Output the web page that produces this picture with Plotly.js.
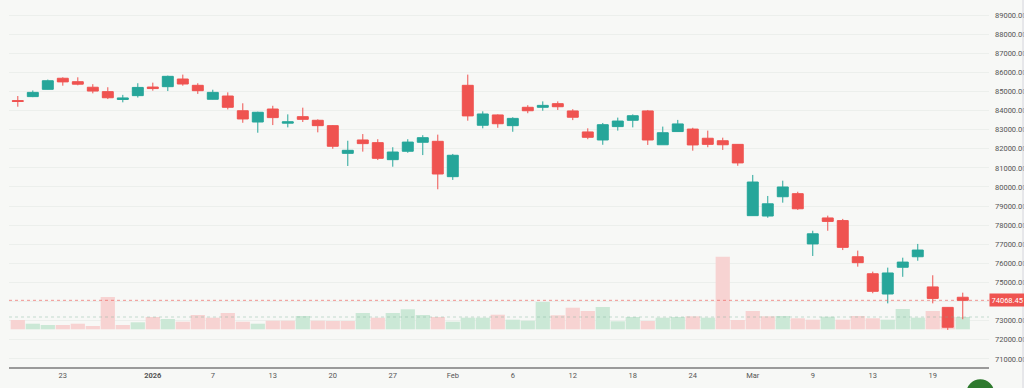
<!DOCTYPE html>
<html>
<head>
<meta charset="utf-8">
<script src="https://cdn.plot.ly/plotly-3.0.1.min.js"></script>
<style>
  html, body { margin: 0; padding: 0; background: #f7f8f6; }
  #chart { width: 1024px; height: 388px; }
</style>
</head>
<body>
<div id="chart"></div>
<script>
// Trading days (categories)
const dates = [
  "2025-12-18","2025-12-19","2025-12-22","2025-12-23","2025-12-24","2025-12-26","2025-12-29","2025-12-30",
  "2025-12-31","2026-01-01","2026-01-02","2026-01-05","2026-01-06","2026-01-07","2026-01-08","2026-01-09",
  "2026-01-12","2026-01-13","2026-01-14","2026-01-16","2026-01-19","2026-01-20","2026-01-21","2026-01-22",
  "2026-01-23","2026-01-27","2026-01-28","2026-01-29","2026-01-30","2026-02-01","2026-02-02","2026-02-03",
  "2026-02-04","2026-02-06","2026-02-09","2026-02-10","2026-02-11","2026-02-12","2026-02-13","2026-02-16",
  "2026-02-17","2026-02-18","2026-02-19","2026-02-20","2026-02-23","2026-02-24","2026-02-25","2026-02-26",
  "2026-02-27","2026-03-02","2026-03-04","2026-03-05","2026-03-06","2026-03-09","2026-03-10","2026-03-11",
  "2026-03-12","2026-03-13","2026-03-16","2026-03-17","2026-03-18","2026-03-19","2026-03-20","2026-03-23"
];
const opens = [
  84520, 84730, 85110, 85690, 85510, 85220, 84990, 84580,
  84780, 85230, 85250, 85650, 85320, 84590, 84760, 83990,
  83400, 84080, 83340, 83680, 83490, 83210, 81760, 82460,
  82320, 81430, 81870, 82340, 82390, 80540, 85320, 83230,
  83770, 83210, 84170, 84170, 84360, 83980, 82880, 82460,
  83160, 83490, 83980, 82210, 82900, 83030, 82550, 82420,
  82230, 78500, 78480, 79490, 79650, 77020, 78380, 78240,
  76350, 75460, 74400, 75800, 76350, 74770, 73700, 74230
];
const highs = [
  84760, 85050, 85620, 85740, 85740, 85380, 85220, 84820,
  85430, 85460, 85830, 85880, 85430, 85090, 84950, 84380,
  83940, 84250, 83800, 84150, 83540, 83240, 82420, 82770,
  82500, 82080, 82500, 82710, 82740, 81730, 85880, 83960,
  83800, 83650, 84280, 84480, 84480, 84070, 83070, 83350,
  83630, 83800, 84030, 83160, 83510, 83100, 82950, 82580,
  82240, 80630, 79530, 80330, 79750, 77710, 78500, 78330,
  76670, 75570, 75780, 76300, 77020, 75380, 73720, 74470
];
const lows = [
  84200, 84700, 85100, 85300, 85320, 84900, 84600, 84430,
  84680, 85040, 85020, 85300, 84870, 84580, 84060, 83360,
  82840, 83240, 83120, 83400, 82860, 82000, 81100, 81850,
  81410, 81060, 81790, 81670, 79880, 80370, 83470, 83070,
  83100, 82890, 83860, 83990, 84030, 83500, 82500, 82210,
  82950, 83120, 82200, 82210, 82890, 81900, 82080, 81940,
  81110, 78490, 78390, 79180, 78800, 76390, 77710, 76700,
  75830, 74440, 73910, 75300, 76140, 73910, 72520, 73080
];
const closes = [
  84480, 84950, 85560, 85500, 85380, 85020, 84670, 84660,
  85210, 85150, 85790, 85390, 85040, 84950, 84170, 83560,
  83910, 83630, 83410, 83540, 83210, 82130, 81920, 82270,
  81500, 81830, 82350, 82580, 80680, 81660, 83720, 83820,
  83310, 83590, 83990, 84270, 84200, 83650, 82600, 83260,
  83450, 83730, 82460, 82840, 83300, 82200, 82230, 82210,
  81260, 80260, 79120, 80000, 78860, 77550, 78200, 76840,
  76040, 74540, 75500, 76070, 76700, 74170, 72660, 74068.45
];
const volumes = [
  93, 56, 43, 43, 56, 33, 323, 43,
  70, 123, 103, 76, 143, 116, 163, 76,
  56, 86, 86, 133, 86, 83, 83, 163,
  116, 163, 200, 143, 123, 76, 116, 116,
  146, 96, 86, 273, 140, 216, 183, 223,
  80, 123, 83, 116, 123, 130, 116, 726,
  93, 183, 130, 133, 110, 96, 126, 96,
  133, 110, 96, 203, 116, 183, 126, 123
];
// x-axis tick labels
const tickDates = ["2025-12-23","2026-01-01","2026-01-07","2026-01-13","2026-01-20","2026-01-27","2026-02-01",
  "2026-02-06","2026-02-12","2026-02-18","2026-02-24","2026-03-02","2026-03-09","2026-03-13","2026-03-19"];
const tickLabels = ["23","<b>2026</b>","7","13","20","27","Feb","6","12","18","24","Mar","9","13","19"];
// price axis ticks
const priceTicks = [71000,72000,73000,74000,75000,76000,77000,78000,79000,80000,81000,82000,83000,84000,85000,86000,87000,88000,89000];

const UP = '#26a69a', DOWN = '#ef5350';
const VOL_UP = '#cbe8d6', VOL_DOWN = '#f7d3d2';
const volColors = closes.map((c, i) => (i > 0 && c >= closes[i - 1]) ? VOL_UP : VOL_DOWN);
const lastClose = closes[closes.length - 1];
const lastVol = volumes[volumes.length - 1];
// the last-price badge covers the nearest tick label, as in the reference
const priceTickText = priceTicks.map(v => Math.abs(v - lastClose) < 500 ? '' : v.toFixed(2));

const volTrace = {
  type: 'bar', x: dates, y: volumes, xaxis: 'x', yaxis: 'y',
  marker: { color: volColors, line: { width: 0 } },
  hoverinfo: 'skip', showlegend: false
};
const candleTrace = {
  type: 'candlestick', x: dates, open: opens, high: highs, low: lows, close: closes,
  xaxis: 'x', yaxis: 'y2',
  increasing: { line: { color: UP, width: 1 }, fillcolor: UP },
  decreasing: { line: { color: DOWN, width: 1 }, fillcolor: DOWN },
  whiskerwidth: 0, showlegend: false, hoverinfo: 'skip'
};

const layout = {
  width: 1024, height: 388,
  margin: { l: 9, r: 35, t: 0, b: 21, pad: 0 },
  paper_bgcolor: '#f7f8f6', plot_bgcolor: '#f7f8f6',
  font: { family: 'Roboto, "Noto Sans", sans-serif', size: 7.5, color: '#555' },
  showlegend: false,
  bargap: 0.05,
  boxgap: 0.27, boxgroupgap: 0,
  xaxis: {
    type: 'category', categoryorder: 'array', categoryarray: dates,
    range: [-0.587, 64.75],
    rangeslider: { visible: false },
    showgrid: false, zeroline: false,
    showline: true, linecolor: '#9a9a9a', linewidth: 1.5,
    ticks: '', tickmode: 'array', tickvals: tickDates, ticktext: tickLabels,
    tickfont: { size: 7.5, color: '#555' }, tickangle: 0,
    fixedrange: true
  },
  yaxis: {
    range: [-377, 3293], visible: false, showgrid: false, zeroline: false, fixedrange: true
  },
  yaxis2: {
    overlaying: 'y', side: 'right', anchor: 'x',
    range: [70580, 89785],
    showgrid: true, gridcolor: '#ecefec', gridwidth: 1, zeroline: false,
    showline: false, ticks: '',
    tickmode: 'array', tickvals: priceTicks, ticktext: priceTickText,
    tickfont: { size: 7.5, color: '#555' }, ticklabelstandoff: 5,
    fixedrange: true
  },
  shapes: [
    { type: 'line', xref: 'paper', x0: 0, x1: 1, yref: 'y2', y0: lastClose, y1: lastClose,
      line: { color: 'rgba(239,83,80,0.6)', width: 1, dash: 'dot' }, layer: 'above' },
    { type: 'line', xref: 'paper', x0: 0, x1: 1, yref: 'y', y0: lastVol, y1: lastVol,
      line: { color: 'rgba(120,175,150,0.4)', width: 1, dash: 'dot' }, layer: 'above' },
    { type: 'line', xref: 'paper', x0: 1.0347, x1: 1.0347, yref: 'paper', y0: -0.06, y1: 1,
      line: { color: '#d6d6de', width: 1 } },
    { type: 'circle', xref: 'paper', yref: 'paper', x0: 0.977, x1: 1.0052, y0: -0.1084, y1: -0.0332,
      fillcolor: '#2e7a2e', line: { width: 0 } }
  ],
  annotations: [
    { xref: 'paper', x: 1, xanchor: 'left', yref: 'y2', y: lastClose, yanchor: 'middle',
      text: lastClose.toFixed(2), showarrow: false, bgcolor: DOWN, borderpad: 1.5,
      font: { size: 7.5, color: '#ffffff' }, align: 'left', width: 36 }
  ]
};

Plotly.newPlot('chart', [volTrace, candleTrace], layout, { staticPlot: true, displayModeBar: false });
</script>
</body>
</html>
